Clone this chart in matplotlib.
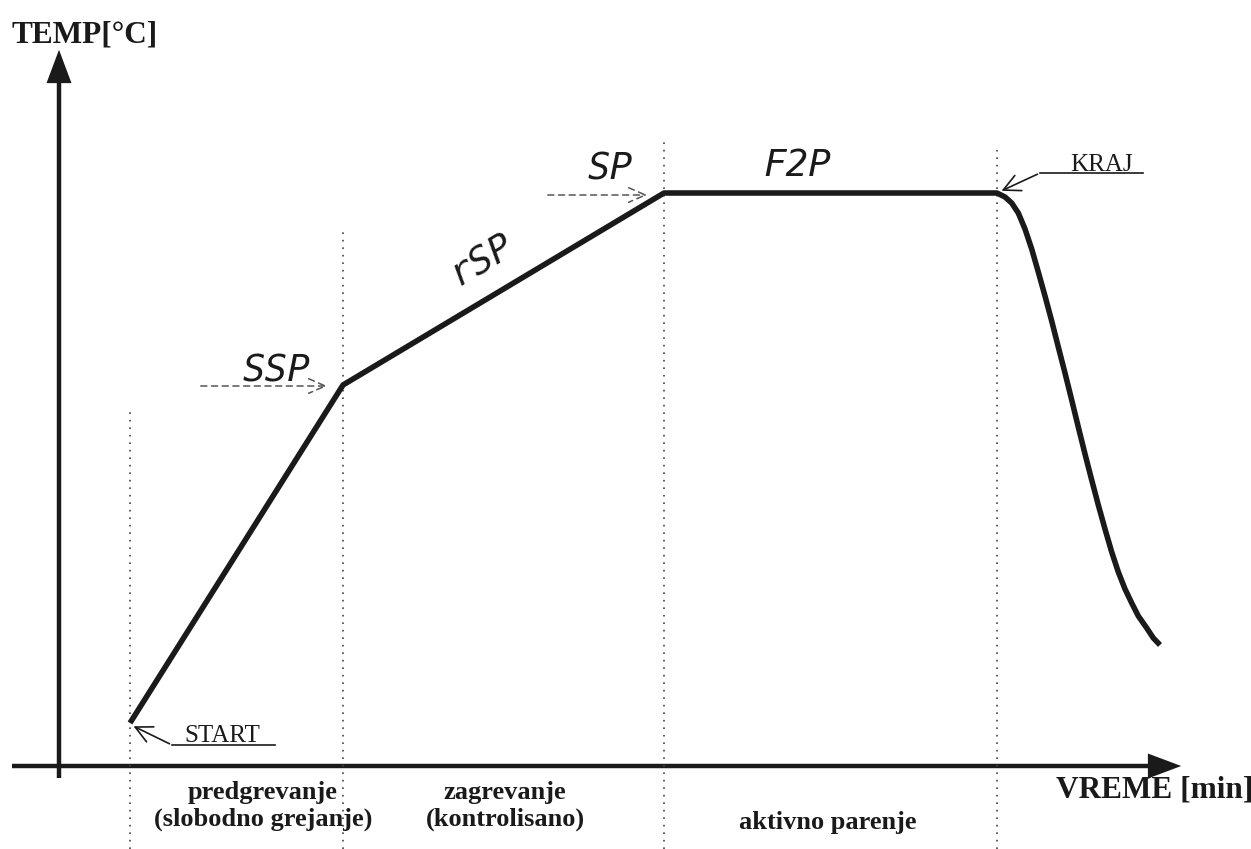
import matplotlib
matplotlib.use("Agg")
import matplotlib.pyplot as plt

# temperature profile (time units, temperature units above the time axis)
time_pts = [130, 343, 664, 997, 1005.0, 1011.7, 1018.3, 1025.0, 1031.7, 1038.3, 1045.0, 1051.7, 1058.3,
            1065.0, 1071.7, 1078.3, 1085.0, 1091.7, 1098.3, 1105.0, 1111.7, 1118.3, 1125.0, 1131.7,
            1138.3, 1146.7, 1153.3, 1160.0]
temp_pts = [43, 381, 573, 573, 569, 563, 553, 537, 517, 494, 470, 445, 419,
            393, 366, 339, 312, 286, 261, 237, 214, 194, 177, 163,
            150, 138, 128, 121]

# phase boundaries and how high their dotted guides go
phase_x = [130, 343, 664, 997]
phase_top = [356, 536, 626, 616]

phase_labels = ["predgrevanje\n(slobodno grejanje)", "zagrevanje\n(kontrolisano)", "aktivno parenje"]
phase_label_x = [263, 505, 828]
phase_label_y = [-40, -40, -56]

fig = plt.figure(figsize=(12.51, 8.49), dpi=100)
ax = fig.add_axes([0, 0, 1, 1])
ax.set_xlim(0, 1251)
ax.set_ylim(-83, 766)
ax.axis("off")

serif = "Liberation Serif"
seg = "DejaVu Sans Mono"

# axes with arrow heads
ax.plot([12, 1170], [0, 0], color="#1a1a1a", lw=3.2, solid_capstyle="butt")
ax.plot([59, 59], [-12, 700], color="#1a1a1a", lw=3.2, solid_capstyle="butt")
ax.annotate("", xy=(1184, 0), xytext=(1160, 0),
            arrowprops=dict(arrowstyle="-|>,head_length=1.2,head_width=0.45", color="#1a1a1a", lw=0, mutation_scale=20))
ax.annotate("", xy=(59, 719), xytext=(59, 690),
            arrowprops=dict(arrowstyle="-|>,head_length=1.2,head_width=0.45", color="#1a1a1a", lw=0, mutation_scale=20))

# dotted phase guides
for x, top in zip(phase_x, phase_top):
    ax.plot([x, x], [-83, top], color="#444444", lw=1.2, ls=(0, (1, 3.5)))

# profile
ax.plot(time_pts, temp_pts, color="#1a1a1a", lw=4, solid_joinstyle="round", solid_capstyle="butt")

# axis titles
ax.text(12, 731, "TEMP[°C]", fontsize=22.5, fontweight="bold", family=serif, ha="left", va="center", color="#1a1a1a")
ax.text(1253, -24, "VREME [min]", fontsize=22.5, fontweight="bold", family=serif, ha="right", va="center", color="#1a1a1a")

# phase labels
for lab, x, y in zip(phase_labels, phase_label_x, phase_label_y):
    ax.text(x, y, lab, fontsize=19, fontweight="bold", family=serif, ha="center", va="center",
            linespacing=1.25, color="#1a1a1a")

# START / KRAJ markers
ax.text(222, 24, "START", fontsize=18, family=serif, ha="center", va="baseline", color="#1a1a1a")
ax.plot([172, 275], [21, 21], color="#1a1a1a", lw=1.2)
ax.annotate("", xy=(131, 41), xytext=(172, 21),
            arrowprops=dict(arrowstyle="->,head_length=0.8,head_width=0.4", color="#1a1a1a", lw=1.2, mutation_scale=15))
ax.text(1102, 595, "KRAJ", fontsize=18, family=serif, ha="center", va="baseline", color="#1a1a1a")
ax.plot([1040, 1143], [593, 593], color="#1a1a1a", lw=1.2)
ax.annotate("", xy=(999, 574), xytext=(1040, 593),
            arrowprops=dict(arrowstyle="->,head_length=0.8,head_width=0.4", color="#1a1a1a", lw=1.2, mutation_scale=15))

# setpoint arrows
ax.annotate("", xy=(330, 380), xytext=(198, 380),
            arrowprops=dict(arrowstyle="->,head_length=0.8,head_width=0.35", color="#555555", lw=1.1,
                            ls=(0, (4, 3)), mutation_scale=15))
ax.annotate("", xy=(650, 571), xytext=(545, 571),
            arrowprops=dict(arrowstyle="->,head_length=0.8,head_width=0.35", color="#555555", lw=1.1,
                            ls=(0, (4, 3)), mutation_scale=15))

# display codes
seg_kw = dict(family=seg, fontstyle="oblique", fontsize=27, ha="center", va="center", color="#1a1a1a")
ax.text(276, 395, "SSP", **seg_kw)
ax.text(610, 597, "SP", **seg_kw)
ax.text(797, 600, "F2P", **seg_kw)
ax.text(482, 505, "rSP", rotation=31, rotation_mode="anchor", **seg_kw)

fig.savefig("out.png", dpi=100)
